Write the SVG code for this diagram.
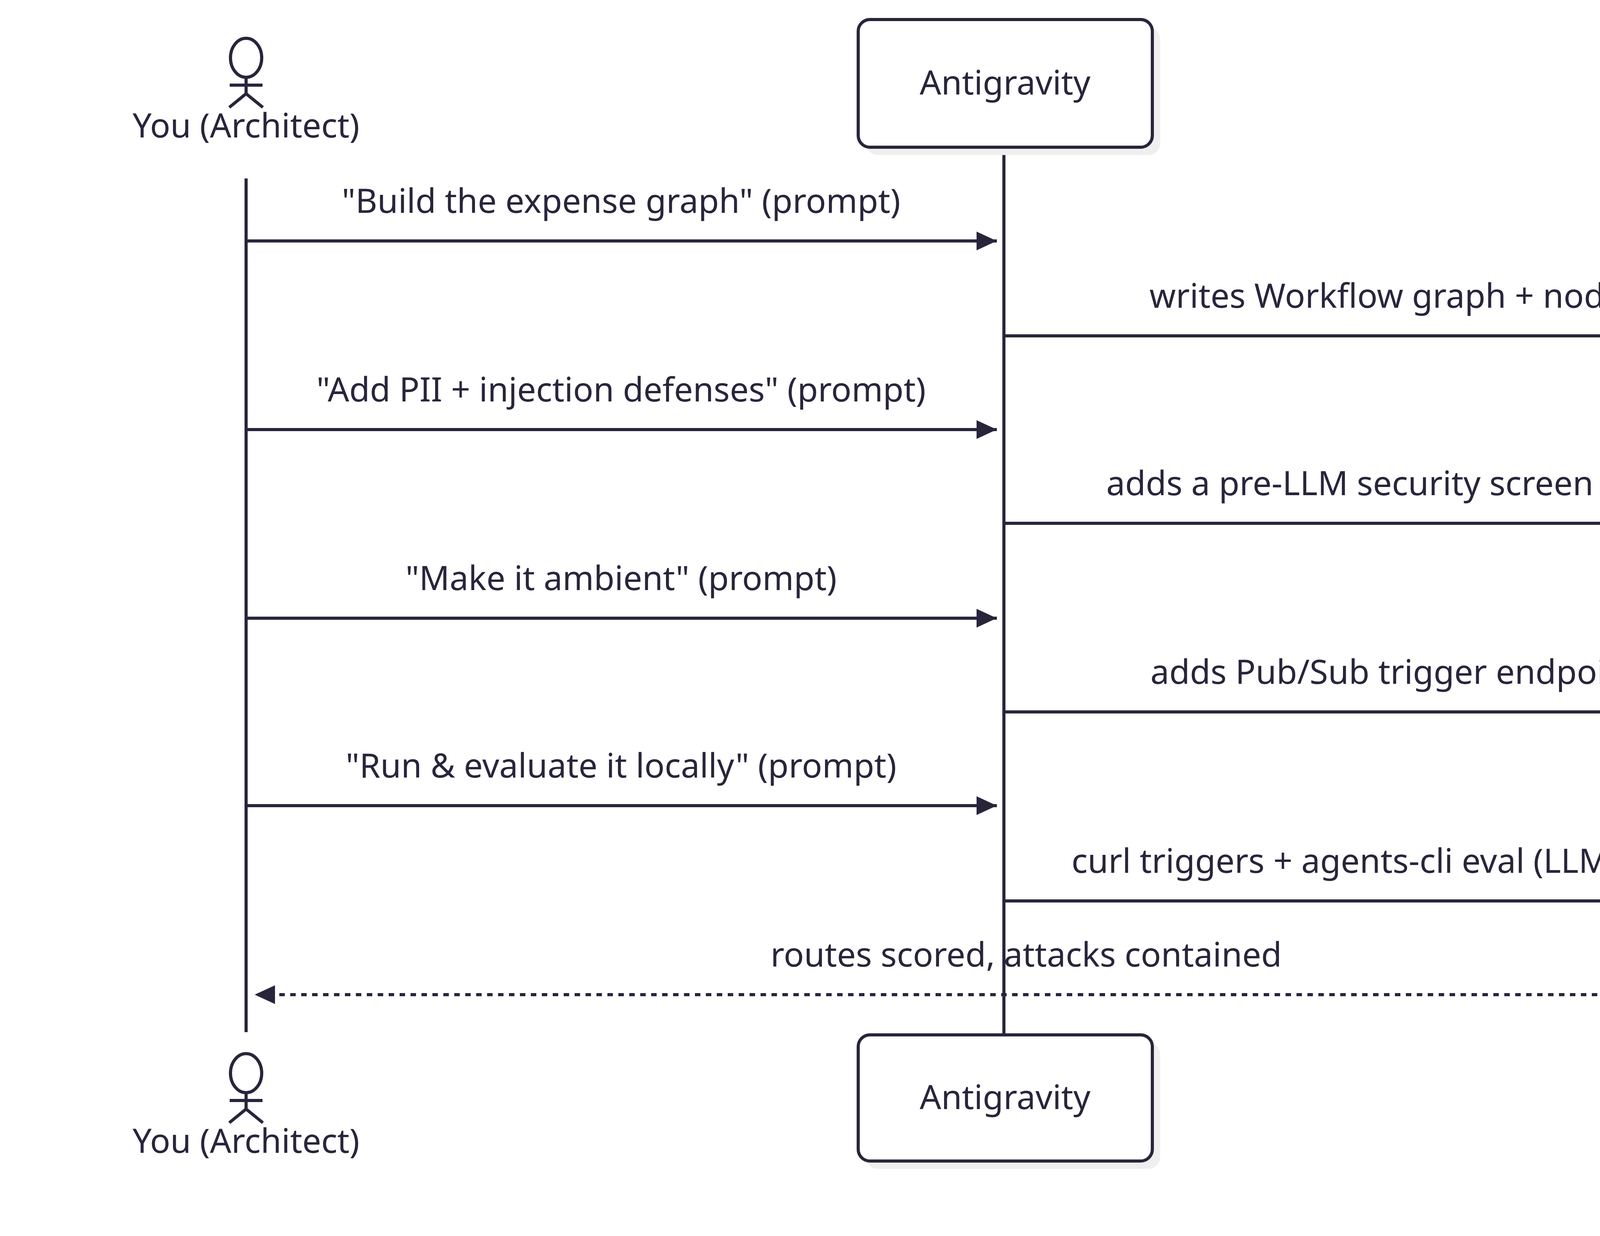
<svg xmlns="http://www.w3.org/2000/svg" width="5200" height="3165" viewBox="0 0 5200 3165">
<style>
text{font-family:"Noto Sans","Liberation Sans",sans-serif;font-size:86px;fill:#28253b;text-anchor:middle}
.box{fill:#fff;stroke:#28253b;stroke-width:8}
.sh{fill:#efefef}
.life{stroke:#28253b;stroke-width:8;fill:none}
.msg{stroke:#28253b;stroke-width:8;fill:none;marker-end:url(#ah)}
.dash{stroke-dasharray:14 14}
.act{stroke:#28253b;stroke-width:8;fill:none}
</style>
<defs>
<marker id="ah" markerWidth="6.5" markerHeight="6" refX="10" refY="5" orient="auto" markerUnits="strokeWidth" viewBox="0 0 10 10" preserveAspectRatio="none"><path d="M0,0L10,5L0,10z" fill="#28253b"/></marker>
</defs>
<rect width="5200" height="3165" fill="#fff"/>
<g id="lifelines">
<line class="life" x1="630" y1="457" x2="630" y2="2643"/>
<line class="life" x1="2570" y1="377" x2="2570" y2="2650"/>
<line class="life" x1="4593" y1="377" x2="4593" y2="2650"/>
</g>
<g id="actor-top">
<ellipse class="act" cx="630" cy="148" rx="40" ry="50"/>
<line class="act" x1="630" y1="198" x2="630" y2="240"/>
<line class="act" x1="588" y1="218" x2="672" y2="218"/>
<path class="act" d="M587,275L630,240L673,275"/>
<text x="630" y="352">You (Architect)</text>
</g>
<g id="antigravity-top">
<rect class="sh" x="2217" y="70" width="753" height="327" rx="30"/>
<rect class="box" x="2197" y="50" width="753" height="327" rx="30"/>
<text x="2573" y="242">Antigravity</text>
</g>
<g id="adk-top">
<rect class="sh" x="4237" y="70" width="756" height="327" rx="30"/>
<rect class="box" x="4217" y="50" width="756" height="327" rx="30"/>
<text x="4595" y="242">ADK 2.0 (local)</text>
</g>
<g id="connectors">
<line class="msg" x1="630" y1="617" x2="2552" y2="617"/>
<text x="1590" y="545">"Build the expense graph" (prompt)</text>
<line class="msg" x1="2570" y1="860" x2="4575" y2="860"/>
<text x="3570" y="788">writes Workflow graph + nodes</text>
<line class="msg" x1="630" y1="1100" x2="2552" y2="1100"/>
<text x="1590" y="1028">"Add PII + injection defenses" (prompt)</text>
<line class="msg" x1="2570" y1="1340" x2="4575" y2="1340"/>
<text x="3570" y="1268">adds a pre-LLM security screen node</text>
<line class="msg" x1="630" y1="1583" x2="2552" y2="1583"/>
<text x="1590" y="1511">"Make it ambient" (prompt)</text>
<line class="msg" x1="2570" y1="1823" x2="4575" y2="1823"/>
<text x="3570" y="1751">adds Pub/Sub trigger endpoint</text>
<line class="msg" x1="630" y1="2063" x2="2552" y2="2063"/>
<text x="1590" y="1991">"Run &amp; evaluate it locally" (prompt)</text>
<line class="msg" x1="2570" y1="2307" x2="4575" y2="2307"/>
<text x="3570" y="2235">curl triggers + agents-cli eval (LLM judge)</text>
<line class="msg dash" x1="4593" y1="2547" x2="652" y2="2547"/>
<text x="2627" y="2475">routes scored, attacks contained</text>
</g>
<g id="actor-bottom">
<ellipse class="act" cx="630" cy="2748" rx="40" ry="50"/>
<line class="act" x1="630" y1="2798" x2="630" y2="2840"/>
<line class="act" x1="588" y1="2818" x2="672" y2="2818"/>
<path class="act" d="M587,2875L630,2840L673,2875"/>
<text x="630" y="2952">You (Architect)</text>
</g>
<g id="antigravity-bottom">
<rect class="sh" x="2217" y="2670" width="753" height="323" rx="30"/>
<rect class="box" x="2197" y="2650" width="753" height="323" rx="30"/>
<text x="2573" y="2840">Antigravity</text>
</g>
<g id="adk-bottom">
<rect class="sh" x="4237" y="2670" width="756" height="323" rx="30"/>
<rect class="box" x="4217" y="2650" width="756" height="323" rx="30"/>
<text x="4595" y="2840">ADK 2.0 (local)</text>
</g>
</svg>
